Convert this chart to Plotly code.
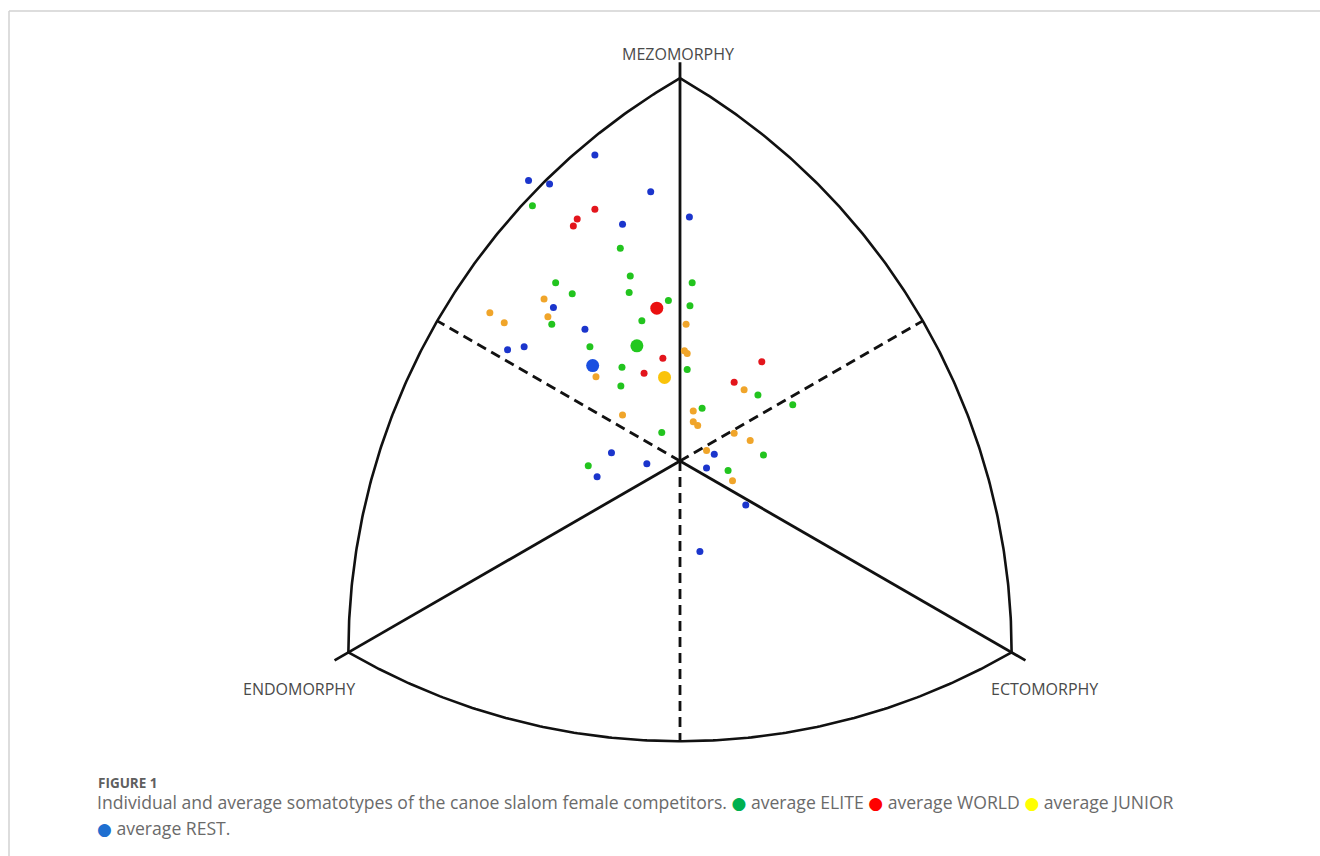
import numpy as np
import plotly.graph_objects as go

# Somatochart coordinates: X = ecto - endo, Y = 2*meso - (endo + ecto)
elite_x = [-2.67, -1.08, -0.90, -2.25, 0.22, -1.95, -0.92, -0.21, 0.18, -2.32, -0.69,
           -1.63, -1.05, 0.13, -1.07, 0.40, 1.41, 2.04, -0.33, 1.51, 0.87, -1.66]
elite_y = [8.00, 6.67, 5.80, 5.59, 5.59, 5.24, 5.28, 5.03, 4.87, 4.29, 4.40,
           3.58, 2.94, 2.87, 2.35, 1.65, 2.07, 1.76, 0.89, 0.19, -0.30, -0.15]

world_x = [-1.54, -1.86, -1.93, -0.31, -0.65, 1.48, 0.98]
world_y = [7.89, 7.59, 7.37, 3.22, 2.75, 3.11, 2.47]

junior_x = [-3.44, -3.18, -2.46, -2.39, -1.52, -1.04, 0.11, 0.08, 0.13, 0.24, 0.24,
            0.32, 1.16, 0.98, 1.27, 0.48, 0.95]
junior_y = [4.65, 4.33, 5.08, 4.52, 2.64, 1.44, 4.29, 3.46, 3.37, 1.57, 1.23,
            1.11, 2.23, 0.87, 0.64, 0.33, -0.62]

rest_x = [-1.54, -2.74, -2.36, -0.53, 0.17, -1.04, -2.29, -1.72, -2.82, -3.12,
          -1.24, -0.60, -1.50, 0.48, 0.62, 1.19, 0.36]
rest_y = [9.59, 8.79, 8.68, 8.44, 7.65, 7.42, 4.81, 4.13, 3.58, 3.49,
          0.26, -0.09, -0.49, -0.22, 0.21, -1.38, -2.84]

avg_groups = ["ELITE", "WORLD", "JUNIOR", "REST"]
avg_x = [-0.78, -0.42, -0.28, -1.58]
avg_y = [3.61, 4.79, 2.62, 2.99]

pole_names = ["ENDOMORPHY", "MEZOMORPHY", "ECTOMORPHY"]
# pole ratings (endo, meso, ecto)
pole_ratings = [(7, 1, 1), (1, 7, 1), (1, 1, 7)]

caption_title = "FIGURE 1"
caption_text = "Individual and average somatotypes of the canoe slalom female competitors."

point_colors = {"ELITE": "#22c41e", "WORLD": "#e3151c", "JUNIOR": "#f0a52a", "REST": "#1b35cc"}
avg_colors = {"ELITE": "#22c81e", "WORLD": "#ea1010", "JUNIOR": "#fac30a", "REST": "#1a4fe0"}
caption_dot_colors = {"ELITE": "#00b050", "WORLD": "#ff0000", "JUNIOR": "#ffff00", "REST": "#1f6fd0"}

# ---- canvas / scale ----
W, H = 1320, 856
CX, CY = 680.0, 461.0          # pixel position of the chart origin
PX_X, PX_Y = 55.27, 31.9       # pixels per somatochart unit
x_range = [-CX / PX_X, (W - CX) / PX_X]
y_range = [-(H - CY) / PX_Y, CY / PX_Y]

K = np.sqrt(3.0)  # X is stretched by sqrt(3) so the triangle is equilateral


def rating_to_xy(endo, meso, ecto):
    return ecto - endo, 2 * meso - endo - ecto


poles = np.array([rating_to_xy(*r) for r in pole_ratings], dtype=float)
poles_iso = np.column_stack([poles[:, 0] * K, poles[:, 1]])
side = np.linalg.norm(poles_iso[0] - poles_iso[1])


def arc(a, b, c, n=200):
    """Circular arc (isotropic coords) from a to b about centre c; returns X, Y."""
    r = np.linalg.norm(a - c)
    t0 = np.arctan2(a[1] - c[1], a[0] - c[0])
    t1 = np.arctan2(b[1] - c[1], b[0] - c[0])
    d = (t1 - t0 + np.pi) % (2 * np.pi) - np.pi
    t = t0 + np.linspace(0, d, n)
    u = c[0] + r * np.cos(t)
    v = c[1] + r * np.sin(t)
    return u / K, v


fig = go.Figure()

LINE = dict(color="#111111", width=2.6)

# Reuleaux outline
L, T, R = poles_iso
for a, b, c in [(L, T, R), (T, R, L), (R, L, T)]:
    ax_, ay_ = arc(a, b, c)
    fig.add_trace(go.Scatter(x=ax_, y=ay_, mode="lines", line=LINE,
                             hoverinfo="skip", showlegend=False))

# solid axes to the poles (slightly past the vertex)
for p in poles_iso:
    d = p / np.linalg.norm(p)
    end = d * 12.5
    fig.add_trace(go.Scatter(x=[0, end[0] / K], y=[0, end[1]], mode="lines",
                             line=dict(color="#111111", width=2.8),
                             hoverinfo="skip", showlegend=False))

# dashed axes to the arc midpoints
for p in poles_iso:
    d = -p / np.linalg.norm(p)
    end = d * (side - np.linalg.norm(p))
    fig.add_trace(go.Scatter(x=[0, end[0] / K], y=[0, end[1]], mode="lines",
                             line=dict(color="#111111", width=2.8, dash="10px,6px"),
                             hoverinfo="skip", showlegend=False))

# individual somatotypes
groups = [("ELITE", elite_x, elite_y), ("WORLD", world_x, world_y),
          ("JUNIOR", junior_x, junior_y), ("REST", rest_x, rest_y)]
for name, gx, gy in groups:
    fig.add_trace(go.Scatter(x=gx, y=gy, mode="markers", name=name,
                             marker=dict(size=7, color=point_colors[name]),
                             showlegend=False))

# group averages
for name, x, y in zip(avg_groups, avg_x, avg_y):
    fig.add_trace(go.Scatter(x=[x], y=[y], mode="markers", name="average " + name,
                             marker=dict(size=13, color=avg_colors[name]),
                             showlegend=False))

# pole labels
label_pos = {"MEZOMORPHY": (-0.04, 12.76), "ENDOMORPHY": (-6.89, -7.15), "ECTOMORPHY": (6.60, -7.15)}
for name in pole_names:
    lx, ly = label_pos[name]
    fig.add_annotation(x=lx, y=ly, text=name, showarrow=False,
                       font=dict(family="Open Sans", size=16, color="#4a4a4a"),
                       xanchor="center", yanchor="middle")

# caption
def px(xp):
    return xp / W


def py(yp):
    return 1 - yp / H


def dot(name):
    return (f'<span style="color:{caption_dot_colors[name]};font-size:17px;'
            f'font-family:DejaVu Sans">●</span>')


line1 = caption_text + " " + " ".join(
    f"{dot(g)} average {g}" for g in avg_groups[:3])
line2 = f"{dot(avg_groups[3])} average {avg_groups[3]}."

fig.add_annotation(xref="paper", yref="paper", x=px(96), y=py(783), text=f"<b>{caption_title}</b>",
                   showarrow=False, xanchor="left", yanchor="middle",
                   font=dict(family="Open Sans", size=13.5, color="#5f5f5f"))
fig.add_annotation(xref="paper", yref="paper", x=px(95), y=py(802), text=line1,
                   showarrow=False, xanchor="left", yanchor="middle",
                   font=dict(family="Open Sans", size=17.6, color="#6a6a6a"))
fig.add_annotation(xref="paper", yref="paper", x=px(95), y=py(828), text=line2,
                   showarrow=False, xanchor="left", yanchor="middle",
                   font=dict(family="Open Sans", size=17.6, color="#6a6a6a"))

# page frame
fig.add_shape(type="line", xref="paper", yref="paper", x0=px(9), x1=1, y0=py(11), y1=py(11),
              line=dict(color="#d2d2d2", width=1.5))
fig.add_shape(type="line", xref="paper", yref="paper", x0=px(9), x1=px(9), y0=0, y1=py(11),
              line=dict(color="#d2d2d2", width=1.5))

fig.update_layout(
    width=W, height=H,
    margin=dict(l=0, r=0, t=0, b=0),
    paper_bgcolor="white", plot_bgcolor="white",
    xaxis=dict(range=x_range, visible=False, fixedrange=True),
    yaxis=dict(range=y_range, visible=False, fixedrange=True),
    showlegend=False,
)

fig.write_html("out.html")
